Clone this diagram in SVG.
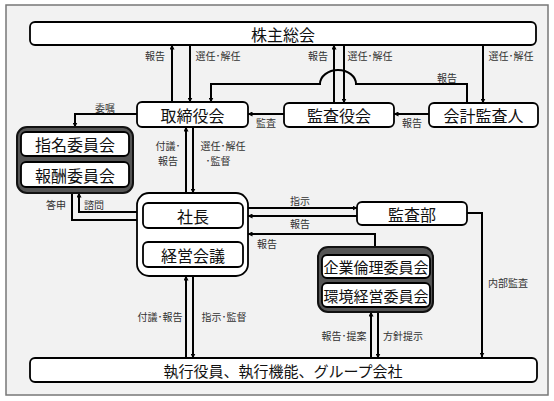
<svg xmlns="http://www.w3.org/2000/svg" width="554" height="401" viewBox="0 0 554 401">
<defs>
<marker id="ah" viewBox="0 0 10 10" refX="9" refY="5" markerWidth="5" markerHeight="5" orient="auto" markerUnits="userSpaceOnUse">
<path d="M0,0 L10,5 L0,10 z" fill="#000"/>
</marker>
<style>
.frame{fill:#f2f2f2;stroke:#777;stroke-width:1.5}
.box{fill:#fff;stroke:#000;stroke-width:1.8}
.grp{fill:#555;stroke:#111;stroke-width:2}
.grpw{fill:#fff;stroke:#000;stroke-width:1.8}
.t{font-family:"Noto Sans CJK JP","Noto Sans CJK SC",sans-serif;font-size:16px;fill:#111;text-anchor:middle;dominant-baseline:central}
.s{font-family:"Noto Sans CJK JP","Noto Sans CJK SC",sans-serif;font-size:10px;fill:#333;text-anchor:middle;dominant-baseline:central}
.c{fill:none;stroke:#000;stroke-width:2}
.a{marker-end:url(#ah)}
</style>
</defs>
<rect class="frame" x="6" y="5" width="542" height="390"/>

<g id="connectors">
<line class="c a" x1="172" y1="102" x2="172" y2="45"/>
<line class="c a" x1="190" y1="45" x2="190" y2="102"/>
<line class="c a" x1="334" y1="103" x2="334" y2="45"/>
<line class="c a" x1="344" y1="45" x2="344" y2="103"/>
<line class="c a" x1="483" y1="45" x2="483" y2="103"/>
<path class="c a" d="M467,103 V84 H356 A18,14 0 0 0 320,84 H211 V102"/>
<line class="c a" x1="284" y1="114" x2="248" y2="114"/>
<line class="c a" x1="429" y1="114" x2="394" y2="114"/>
<path class="c a" d="M137,114 H75 V127"/>
<line class="c a" x1="186" y1="193" x2="186" y2="127"/>
<line class="c a" x1="193" y1="127" x2="193" y2="193"/>
<path class="c a" d="M72,193 V220 H143"/>
<path class="c a" d="M137,212 H79 V193"/>
<line class="c a" x1="248" y1="208" x2="357" y2="208"/>
<line class="c a" x1="357" y1="216" x2="248" y2="216"/>
<path class="c a" d="M375,247 V234 H248"/>
<path class="c a" d="M467,213 H482 V357"/>
<line class="c a" x1="186" y1="358" x2="186" y2="276"/>
<line class="c a" x1="193" y1="276" x2="193" y2="358"/>
<line class="c a" x1="371" y1="358" x2="371" y2="312"/>
<line class="c a" x1="378" y1="312" x2="378" y2="358"/>
</g>

<g id="labels">
<text class="s" x="155" y="55">報告</text>
<text class="s" x="218" y="55">選任･解任</text>
<text class="s" x="318" y="55">報告</text>
<text class="s" x="370" y="55">選任･解任</text>
<text class="s" x="511" y="55">選任･解任</text>
<text class="s" x="447" y="77">報告</text>
<text class="s" x="105" y="107">委嘱</text>
<text class="s" x="266" y="122">監査</text>
<text class="s" x="412" y="122">報告</text>
<text class="s" x="168" y="145.5">付議･</text>
<text class="s" x="168" y="160">報告</text>
<text class="s" x="223" y="145.5">選任･解任</text>
<text class="s" x="218" y="160">･監督</text>
<text class="s" x="56" y="204">答申</text>
<text class="s" x="94" y="204">諮問</text>
<text class="s" x="300" y="200">指示</text>
<text class="s" x="300" y="223">報告</text>
<text class="s" x="267" y="243">報告</text>
<text class="s" x="508" y="282">内部監査</text>
<text class="s" x="160" y="316">付議･報告</text>
<text class="s" x="224" y="316">指示･監督</text>
<text class="s" x="344" y="335">報告･提案</text>
<text class="s" x="403" y="335">方針提示</text>
</g>

<g id="n-shareholders">
<rect class="box" x="30" y="22" width="506" height="23" rx="5"/>
<text class="t" x="283" y="33.5">株主総会</text>
</g>
<g id="n-board">
<rect class="box" x="137" y="102" width="111" height="25" rx="5"/>
<text class="t" x="192.5" y="114.5">取締役会</text>
</g>
<g id="n-auditboard">
<rect class="box" x="284" y="103" width="110" height="24" rx="5"/>
<text class="t" x="339" y="115">監査役会</text>
</g>
<g id="n-accountant">
<rect class="box" x="429" y="103" width="109" height="24" rx="5"/>
<text class="t" x="483.5" y="115">会計監査人</text>
</g>
<g id="n-committees">
<rect class="grp" x="17" y="127" width="116" height="66" rx="10"/>
<rect class="box" x="21" y="132" width="108" height="24" rx="5"/>
<text class="t" x="75" y="144">指名委員会</text>
<rect class="box" x="21" y="162" width="108" height="25" rx="5"/>
<text class="t" x="75" y="174.5">報酬委員会</text>
</g>
<g id="n-president">
<rect class="grpw" x="137" y="193" width="111" height="83" rx="12"/>
<rect class="box" x="143" y="203" width="100" height="25" rx="5"/>
<text class="t" x="193" y="215.5">社長</text>
<rect class="box" x="143" y="242" width="100" height="25" rx="5"/>
<text class="t" x="193" y="254.5">経営会議</text>
</g>
<g id="n-auditdept">
<rect class="box" x="357" y="202" width="110" height="23" rx="5"/>
<text class="t" x="412" y="213.5">監査部</text>
</g>
<g id="n-ethics">
<rect class="grp" x="318" y="247" width="115" height="65" rx="10"/>
<rect class="box" x="322" y="255" width="108" height="23" rx="5"/>
<text class="t" x="376" y="266.5" style="font-size:15px">企業倫理委員会</text>
<rect class="box" x="322" y="283" width="108" height="24" rx="5"/>
<text class="t" x="376" y="295" style="font-size:15px">環境経営委員会</text>
</g>
<g id="n-exec">
<rect class="box" x="30" y="358" width="507" height="24" rx="5"/>
<text class="t" x="283" y="370" style="font-size:15px">執行役員、執行機能、グループ会社</text>
</g>
</svg>
